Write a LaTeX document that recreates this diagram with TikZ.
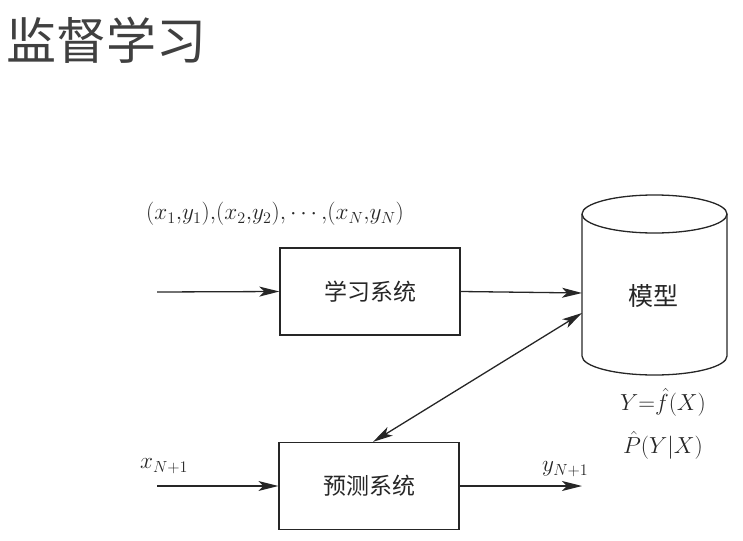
\documentclass[tikz,border=0pt]{standalone}
\usepackage{fontspec}
\usepackage{amsmath}
\usepackage{graphicx}
\newfontfamily\cjk{Noto Sans CJK SC}
\usetikzlibrary{arrows.meta}
\newcommand{\mylbl}[1]{\scalebox{1.12}{$#1$}}
\begin{document}
\begin{tikzpicture}[x=1pt,y=-1pt,
  line/.style={draw=black!85, line width=1.3pt},
  arr/.style={line, -{Stealth[length=20pt,width=10pt,inset=5pt]}},
  darr/.style={line, {Stealth[length=20pt,width=10pt,inset=5pt]}-{Stealth[length=20pt,width=10pt,inset=5pt]}},
  sysbox/.style={line, minimum width=180pt, minimum height=87pt, inner sep=0pt,
    font=\cjk\fontsize{23}{23}\selectfont, text=black!85},
  lbl/.style={inner sep=0pt, font=\fontsize{20.74}{24}\selectfont, text=black!85}]
\useasboundingbox (0,0) rectangle (743,540);
% title
\node[anchor=west, inner sep=0pt, text=black!75, font=\cjk\fontsize{50}{50}\selectfont] (title) at (6,40) {监督学习};
% boxes
\node[sysbox] (learn) at (370,291.5) {学习系统};
\node[sysbox] (pred) at (369,486) {预测系统};
% cylinder
\draw[line] (582,214) -- (582,356) arc[start angle=180, end angle=0, x radius=72.5, y radius=19] -- (727,214);
\draw[line] (654.5,214) ellipse[x radius=72.5, y radius=19];
\node[inner sep=0pt, text=black!85, font=\cjk\fontsize{25}{25}\selectfont] (model) at (653,296) {模型};
\coordinate (m1) at (582,293);
\coordinate (m2) at (582,313);
% labels
\node[lbl, anchor=west] (data) at (146,214) {\mylbl{(x_1{,}y_1){,}(x_2{,}y_2){,}\cdots{,}(x_N{,}y_N)}};
\node[lbl] (fx) at (663,402) {\mylbl{Y{=}\hat{f}(X)}};
\node[lbl] (pyx) at (663,445) {\mylbl{\hat{P}(Y|X)}};
\node[lbl, anchor=west] (xin) at (140,466) {\mylbl{x_{N+1}}};
\node[lbl, anchor=west] (yout) at (542,469) {\mylbl{y_{N+1}}};
% connectors
\coordinate (in1) at (157,292);
\coordinate (in2) at (157,486);
\coordinate (out2) at (582,486);
\draw[arr] (in1) -- (learn.west);
\draw[arr] (learn.east) -- (m1);
\draw[darr] ([xshift=4pt]pred.north) -- (m2);
\draw[arr] (in2) -- (pred.west);
\draw[arr] (pred.east) -- (out2);
\end{tikzpicture}
\end{document}
